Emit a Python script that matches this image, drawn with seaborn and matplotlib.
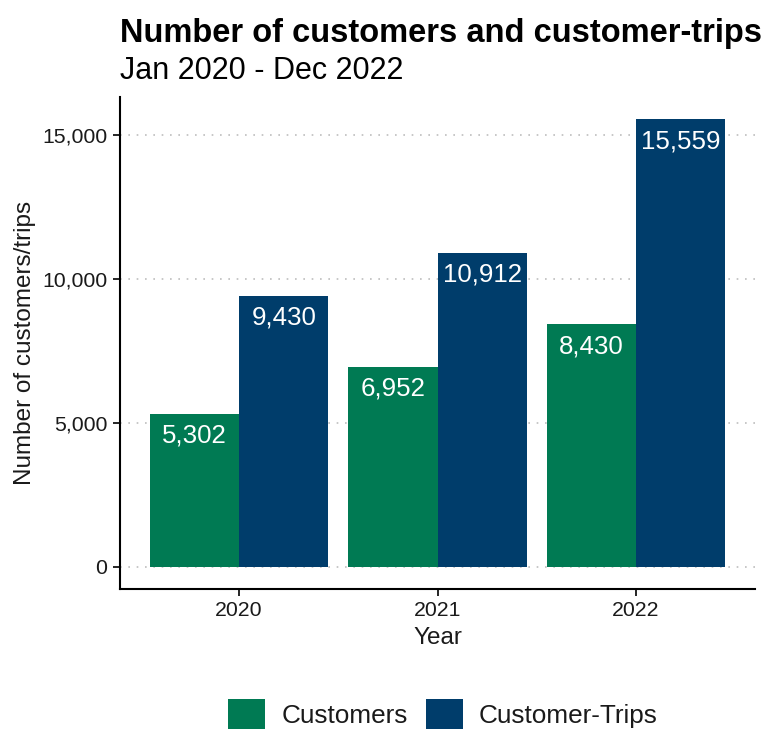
import matplotlib
matplotlib.use("Agg")
import matplotlib.pyplot as plt
import matplotlib.ticker as mticker
from matplotlib.patches import Patch
import pandas as pd
import seaborn as sns

# Yearly totals
years = ["2020", "2021", "2022"]
customers = [5302, 6952, 8430]
customer_trips = [9430, 10912, 15559]
series_names = ["Customers", "Customer-Trips"]
series_colors = ["#007A53", "#003D6B"]
y_ticks = [0, 5000, 10000, 15000]

df = pd.DataFrame({
    "Year": years * 2,
    "value": customers + customer_trips,
    "series": [series_names[0]] * len(years) + [series_names[1]] * len(years),
})

sns.set_theme(style="white")
plt.rcParams["font.family"] = ["Liberation Sans", "DejaVu Sans"]
text_color = "#1a1a1a"

W, H = 777, 731
fig = plt.figure(figsize=(W / 100, H / 100), dpi=100)
ax_left, ax_right, ax_top, ax_bottom = 120, 755, 97, 589
ax = fig.add_axes([ax_left / W, 1 - ax_bottom / H,
                   (ax_right - ax_left) / W, (ax_bottom - ax_top) / H])

sns.barplot(data=df, x="Year", y="value", hue="series", order=years,
            hue_order=series_names, palette=series_colors, width=0.9,
            gap=0, saturation=1, linewidth=0, legend=False, ax=ax)

# Value labels inside the top of each bar
for container in ax.containers:
    for bar, v in zip(container.patches, container.datavalues):
        ax.annotate(f"{v:,.0f}",
                    xy=(bar.get_x() + bar.get_width() / 2, bar.get_height()),
                    xytext=(0, -7), textcoords="offset points",
                    ha="center", va="top", color="white", fontsize=18.6)

top = max(customer_trips)
ax.set_ylim(-0.05 * top, top * 1.05)
ax.set_xlim(-0.6, len(years) - 0.4)
ax.set_yticks(y_ticks)
ax.yaxis.set_major_formatter(mticker.FuncFormatter(lambda v, p: f"{v:,.0f}"))

ax.grid(False)
ax.yaxis.grid(True, color="#bdbdbd", linestyle=(0, (1, 4)), linewidth=1.2)
ax.set_axisbelow(True)

for side in ["top", "right"]:
    ax.spines[side].set_visible(False)
for side in ["left", "bottom"]:
    ax.spines[side].set_color("black")
    ax.spines[side].set_linewidth(1.5)

ax.tick_params(axis="both", which="major", length=5, width=1.2, color="black",
               labelsize=15.3, labelcolor=text_color, pad=4, direction="out",
               bottom=True, left=True)

ax.set_xlabel("Year", fontsize=17.5, color=text_color, labelpad=5)
ax.set_ylabel("Number of customers/trips", fontsize=17.5, color=text_color,
              labelpad=4.5)

fig.text(ax_left / W, 1 - 42 / H, "Number of customers and customer-trips",
         fontsize=23.5, fontweight="bold", color="black", ha="left",
         va="baseline")
fig.text(ax_left / W, 1 - 79 / H, "Jan 2020 - Dec 2022",
         fontsize=22, color="black", ha="left", va="baseline")

handles = [Patch(facecolor=c, edgecolor="none", label=n)
           for n, c in zip(series_names, series_colors)]
fig.legend(handles=handles, loc="center", bbox_to_anchor=(443 / W, 1 - 714 / H),
           ncol=2, frameon=False, fontsize=18.8, handlelength=1.42,
           handleheight=1.42, handletextpad=0.61, columnspacing=0.69,
           borderpad=0, labelcolor=text_color)

fig.savefig("out.png", dpi=100, facecolor="white")
